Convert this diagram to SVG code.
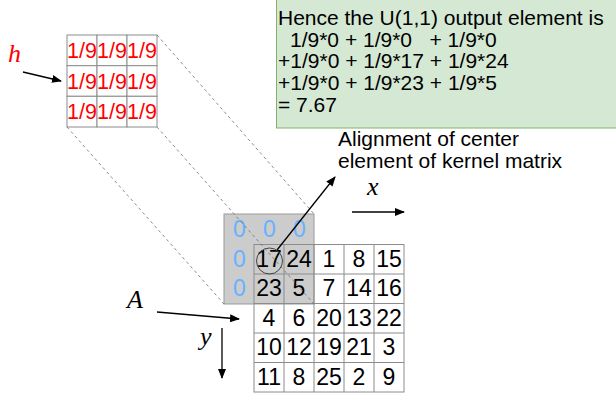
<svg xmlns="http://www.w3.org/2000/svg" width="616" height="397" viewBox="0 0 616 397">
<defs>
<marker id="ah" markerWidth="10" markerHeight="8" refX="9" refY="4" orient="auto" markerUnits="userSpaceOnUse">
<path d="M0,0 L10,4 L0,8 Z" fill="#000"/>
</marker>
<style>
.cell{fill:#fff;stroke:#8c8c8c;stroke-width:1}
.red{font-family:"Liberation Sans",Arial,sans-serif;font-size:21.5px;fill:#ff0000;text-anchor:middle}
.num{font-family:"Liberation Sans",Arial,sans-serif;font-size:23px;fill:#000;text-anchor:middle}
.zero{font-family:"Liberation Sans",Arial,sans-serif;font-size:23px;fill:#66b2ff;text-anchor:middle}
.note{font-family:"Liberation Sans",Arial,sans-serif;font-size:21px;fill:#000;white-space:pre}
.math{font-family:"Liberation Serif","Times New Roman",serif;font-style:italic;font-size:26px}
.dash{stroke:#6e6e6e;stroke-width:0.8;stroke-dasharray:3 3;fill:none}
.arrow{stroke:#000;stroke-width:1.3;fill:none;marker-end:url(#ah)}
</style>
</defs>
<rect width="616" height="397" fill="#fff"/>

<g id="note">
<rect x="276.5" y="-1" width="341" height="129" fill="#d5e8d4" stroke="#82b366" stroke-width="1"/>
<text class="note" x="278" y="25">Hence the U(1,1) output element is</text>
<text class="note" x="290" y="46.7" xml:space="preserve">1/9*0 + 1/9*0   + 1/9*0</text>
<text class="note" x="278" y="68.3">+1/9*0 + 1/9*17 + 1/9*24</text>
<text class="note" x="278" y="90">+1/9*0 + 1/9*23 + 1/9*5</text>
<text class="note" x="278" y="111.7">= 7.67</text>
</g>

<g id="kernel">
<rect class="cell" x="67" y="35" width="30" height="30.7"/>
<rect class="cell" x="97" y="35" width="30" height="30.7"/>
<rect class="cell" x="127" y="35" width="30" height="30.7"/>
<rect class="cell" x="67" y="65.7" width="30" height="30.6"/>
<rect class="cell" x="97" y="65.7" width="30" height="30.6"/>
<rect class="cell" x="127" y="65.7" width="30" height="30.6"/>
<rect class="cell" x="67" y="96.3" width="30" height="30.7"/>
<rect class="cell" x="97" y="96.3" width="30" height="30.7"/>
<rect class="cell" x="127" y="96.3" width="30" height="30.7"/>
<text class="red" x="82" y="58">1/9</text><text class="red" x="112" y="58">1/9</text><text class="red" x="142" y="58">1/9</text>
<text class="red" x="82" y="88.7">1/9</text><text class="red" x="112" y="88.7">1/9</text><text class="red" x="142" y="88.7">1/9</text>
<text class="red" x="82" y="119.3">1/9</text><text class="red" x="112" y="119.3">1/9</text><text class="red" x="142" y="119.3">1/9</text>
</g>

<g id="padding">
<rect x="224" y="214" width="90" height="90" fill="#cccccc" stroke="#999" stroke-width="1"/>
</g>

<g id="matrix">
<g fill="none" stroke="#8c8c8c" stroke-width="1">
<rect x="254" y="244.5" width="150" height="147.5" fill="none"/>
<path d="M284,244.5V392M314,244.5V392M344,244.5V392M374,244.5V392M254,274H404M254,303.5H404M254,333H404M254,362.5H404"/>
</g>
<text class="zero" x="239.5" y="237">0</text><text class="zero" x="269.5" y="237">0</text><text class="zero" x="299.5" y="237">0</text>
<text class="zero" x="239.5" y="266.5">0</text>
<text class="zero" x="239.5" y="296">0</text>
<text class="num" x="269" y="266.5">17</text><text class="num" x="299" y="266.5">24</text><text class="num" x="329" y="266.5">1</text><text class="num" x="359" y="266.5">8</text><text class="num" x="389" y="266.5">15</text>
<text class="num" x="269" y="296">23</text><text class="num" x="299" y="296">5</text><text class="num" x="329" y="296">7</text><text class="num" x="359" y="296">14</text><text class="num" x="389" y="296">16</text>
<text class="num" x="269" y="325.5">4</text><text class="num" x="299" y="325.5">6</text><text class="num" x="329" y="325.5">20</text><text class="num" x="359" y="325.5">13</text><text class="num" x="389" y="325.5">22</text>
<text class="num" x="269" y="355">10</text><text class="num" x="299" y="355">12</text><text class="num" x="329" y="355">19</text><text class="num" x="359" y="355">21</text><text class="num" x="389" y="355">3</text>
<text class="num" x="269" y="384.5">11</text><text class="num" x="299" y="384.5">8</text><text class="num" x="329" y="384.5">25</text><text class="num" x="359" y="384.5">2</text><text class="num" x="389" y="384.5">9</text>
<circle cx="269.5" cy="261" r="13" fill="none" stroke="#444" stroke-width="1"/>
</g>

<g id="labels">
<text class="math" x="8" y="62" fill="#ff0000">h</text>
<text class="math" x="127" y="308" fill="#000">A</text>
<text class="math" x="200" y="345" fill="#000">y</text>
<text class="math" x="367" y="195" fill="#000">x</text>
<text class="note" x="338" y="146">Alignment of center</text>
<text class="note" x="338" y="168">element of kernel matrix</text>
</g>

<g id="connectors">
<line class="dash" x1="157" y1="35" x2="314" y2="214"/>
<line class="dash" x1="157" y1="127" x2="314" y2="304"/>
<line class="dash" x1="67" y1="127" x2="224" y2="304"/>
<line class="arrow" x1="23" y1="72" x2="61" y2="81"/>
<line class="arrow" x1="157" y1="312" x2="239" y2="319"/>
<line class="arrow" x1="222" y1="328" x2="222" y2="378"/>
<line class="arrow" x1="352" y1="212" x2="404" y2="212"/>
<line class="arrow" x1="277" y1="250" x2="335" y2="177"/>
</g>
</svg>
